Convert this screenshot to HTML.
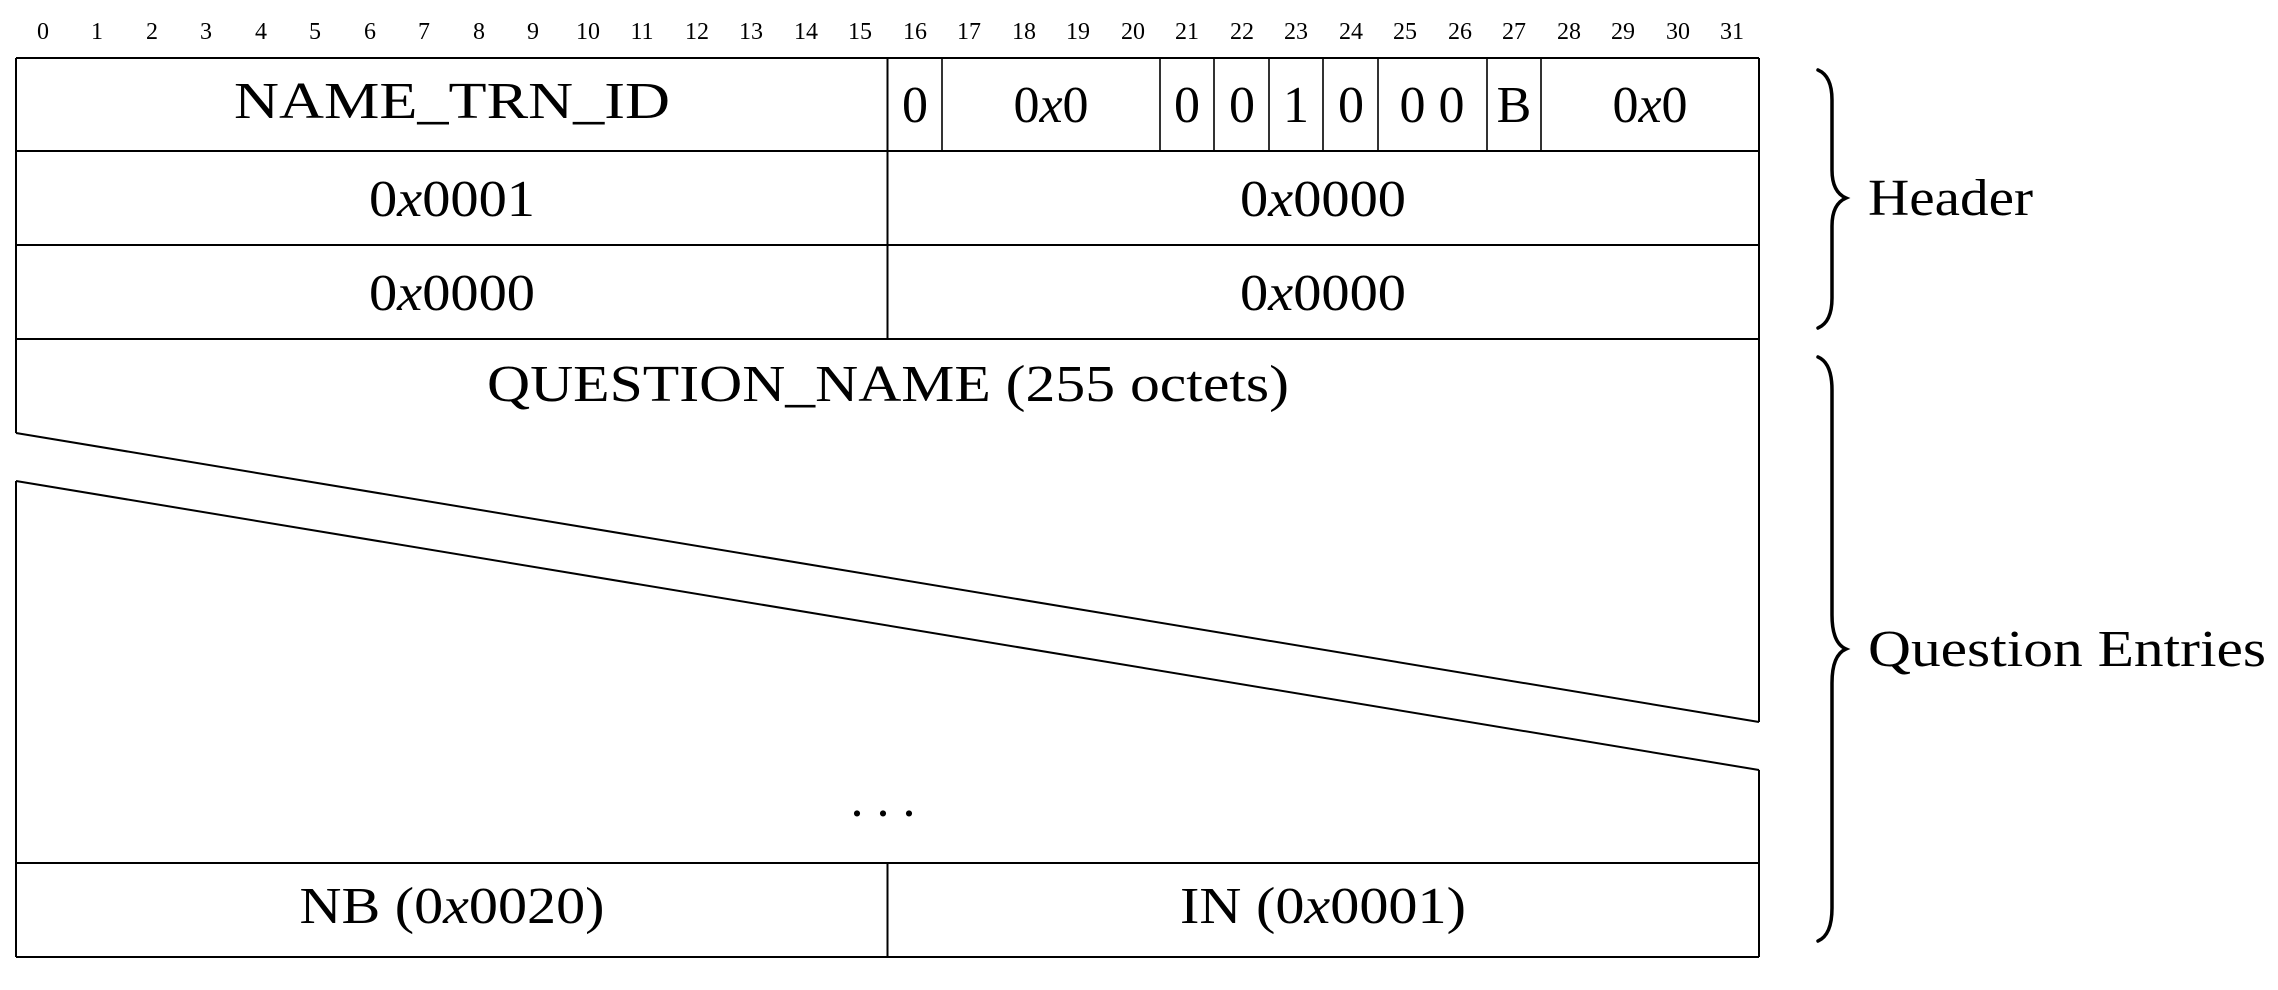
<!DOCTYPE html>
<html><head><meta charset="utf-8"><style>
html,body{margin:0;padding:0;background:#fff;}
svg{display:block}
text{font-family:"Liberation Serif",serif;fill:#000}
</style></head><body>
<svg width="2278" height="990" viewBox="0 0 2278 990" xmlns="http://www.w3.org/2000/svg">
<g font-size="24" text-anchor="middle">
<text x="43" y="39">0</text><text x="97" y="39">1</text><text x="152" y="39">2</text><text x="206" y="39">3</text><text x="261" y="39">4</text><text x="315" y="39">5</text><text x="370" y="39">6</text><text x="424" y="39">7</text><text x="479" y="39">8</text><text x="533" y="39">9</text><text x="588" y="39">10</text><text x="642" y="39">11</text><text x="697" y="39">12</text><text x="751" y="39">13</text><text x="806" y="39">14</text><text x="860" y="39">15</text><text x="915" y="39">16</text><text x="969" y="39">17</text><text x="1024" y="39">18</text><text x="1078" y="39">19</text><text x="1133" y="39">20</text><text x="1187" y="39">21</text><text x="1242" y="39">22</text><text x="1296" y="39">23</text><text x="1351" y="39">24</text><text x="1405" y="39">25</text><text x="1460" y="39">26</text><text x="1514" y="39">27</text><text x="1569" y="39">28</text><text x="1623" y="39">29</text><text x="1678" y="39">30</text><text x="1732" y="39">31</text>
</g>
<g stroke="#000" stroke-width="2" fill="none">
<line x1="16" y1="58" x2="1759" y2="58"/>
<line x1="16" y1="151" x2="1759" y2="151"/>
<line x1="16" y1="245" x2="1759" y2="245"/>
<line x1="16" y1="339" x2="1759" y2="339"/>
<line x1="16" y1="863" x2="1759" y2="863"/>
<line x1="16" y1="957" x2="1759" y2="957"/>
<line x1="16" y1="58" x2="16" y2="433"/>
<line x1="16" y1="481" x2="16" y2="957"/>
<line x1="1759" y1="58" x2="1759" y2="722"/>
<line x1="1759" y1="770" x2="1759" y2="957"/>
<line x1="16" y1="433" x2="1759" y2="722"/>
<line x1="16" y1="481" x2="1759" y2="770"/>
<line x1="887.5" y1="58" x2="887.5" y2="339"/>
<line x1="887.5" y1="863" x2="887.5" y2="957"/>
<g stroke-width="1.6">
<line x1="942" y1="58" x2="942" y2="151"/>
<line x1="1160" y1="58" x2="1160" y2="151"/>
<line x1="1214" y1="58" x2="1214" y2="151"/>
<line x1="1269" y1="58" x2="1269" y2="151"/>
<line x1="1323" y1="58" x2="1323" y2="151"/>
<line x1="1378" y1="58" x2="1378" y2="151"/>
<line x1="1487" y1="58" x2="1487" y2="151"/>
<line x1="1541" y1="58" x2="1541" y2="151"/>
</g>
</g>
<g font-size="52" text-anchor="middle">
<text x="452" y="118" textLength="436" lengthAdjust="spacingAndGlyphs">NAME_TRN_ID</text>
<text x="915" y="122">0</text>
<text x="1051" y="122">0<tspan font-style="italic">x</tspan>0</text>
<text x="1187" y="122">0</text>
<text x="1242" y="122">0</text>
<text x="1296" y="122">1</text>
<text x="1351" y="122">0</text>
<text x="1432" y="122">0 0</text>
<text x="1514" y="122">B</text>
<text x="1650" y="122">0<tspan font-style="italic">x</tspan>0</text>
<text x="452" y="216" textLength="166" lengthAdjust="spacingAndGlyphs">0<tspan font-style="italic">x</tspan>0001</text>
<text x="1323" y="216" textLength="166" lengthAdjust="spacingAndGlyphs">0<tspan font-style="italic">x</tspan>0000</text>
<text x="452" y="310" textLength="166" lengthAdjust="spacingAndGlyphs">0<tspan font-style="italic">x</tspan>0000</text>
<text x="1323" y="310" textLength="166" lengthAdjust="spacingAndGlyphs">0<tspan font-style="italic">x</tspan>0000</text>
<text x="888" y="401" textLength="802" lengthAdjust="spacingAndGlyphs">QUESTION_NAME (255 octets)</text>
<text x="883" y="816">. . .</text>
<text x="452" y="923" textLength="305" lengthAdjust="spacingAndGlyphs">NB (0<tspan font-style="italic">x</tspan>0020)</text>
<text x="1323" y="923" textLength="286" lengthAdjust="spacingAndGlyphs">IN (0<tspan font-style="italic">x</tspan>0001)</text>
</g>
<g stroke="#000" stroke-width="3.5" fill="none" stroke-linecap="round">
<path d="M1818 70 Q1832 76 1832 100 L1832 170 Q1832 192 1846 198 Q1832 204 1832 226 L1832 298 Q1832 322 1818 328"/>
<path d="M1818 357 Q1832 363 1832 390 L1832 615 Q1832 643 1846 649 Q1832 655 1832 683 L1832 908 Q1832 935 1818 941"/>
</g>
<g font-size="52">
<text x="1868" y="215" textLength="165" lengthAdjust="spacingAndGlyphs">Header</text>
<text x="1868" y="666" textLength="398" lengthAdjust="spacingAndGlyphs">Question Entries</text>
</g>
</svg>
</body></html>
